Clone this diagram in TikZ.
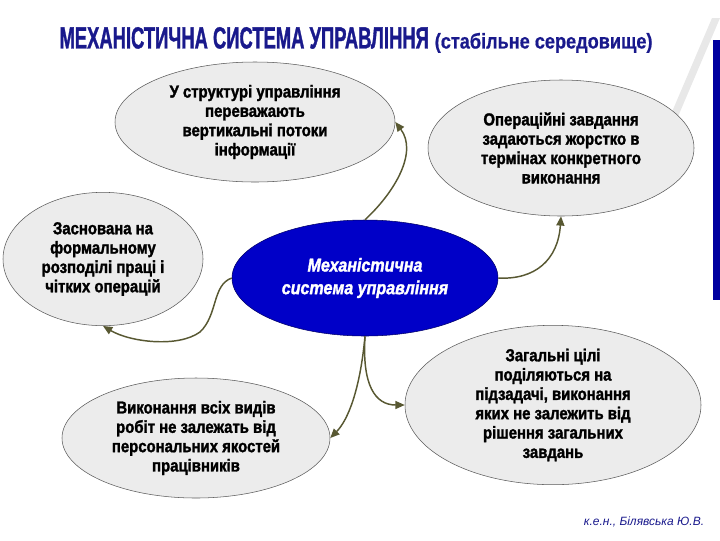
\documentclass[tikz,border=0pt]{standalone}
\usepackage{fontspec}
\setmainfont{Liberation Sans}
\newfontfamily\headfont[FakeStretch=0.6,FakeBold=1]{Liberation Sans}
\newfontfamily\subheadfont[FakeStretch=0.85,FakeBold=0.6]{Liberation Sans}
\newfontfamily\boxfont[FakeStretch=0.86,FakeBold=1.6]{Liberation Sans}
\usepackage{tikz}
\usetikzlibrary{arrows.meta}
\usetikzlibrary{shapes.geometric}

\definecolor{titleblue}{RGB}{25,25,140}
\definecolor{mechblue}{RGB}{0,0,200}
\definecolor{linkolive}{RGB}{88,88,50}

\begin{document}
\begin{tikzpicture}[x=0.75pt, y=-0.75pt,
        node_style/.style={ellipse, draw=gray!70!black, fill=gray!15, inner sep=0pt,
            align=center, font=\boxfont\bfseries\fontsize{13}{14.5}\selectfont},
        main_node_style/.style={ellipse, draw=blue!40!black, fill=mechblue, inner sep=0pt,
            align=center, text=white, font=\boxfont\bfseries\itshape\fontsize{14}{17}\selectfont},
        edge_style/.style={draw=linkolive, line width=1.1pt, -{Triangle[length=7pt,width=6pt]}}]

        \useasboundingbox (0,0) rectangle (720,540);

        % slide decoration
        \fill[gray!18] (712,18) -- (720,18) -- (668,140) -- (660,140) -- cycle;
        \fill[mechblue!80!black] (713,40) rectangle (720,300);

        % title
        \node (title) at (356,40) {\color{titleblue}{\headfont\bfseries\fontsize{23}{26}\selectfont МЕХАНІСТИЧНА СИСТЕМА УПРАВЛІННЯ}\,
            {\subheadfont\bfseries\fontsize{16}{18}\selectfont(стабільне середовище)}};

        \node [main_node_style, minimum width=199.5pt, minimum height=87pt](mech) at (365,278)
            {Механістична\\система управління};

        \node [node_style, minimum width=210pt, minimum height=90pt](vert) at (255,122)
            {У структурі управління\\переважають\\вертикальні потоки\\інформації};

        \node [node_style, minimum width=199.5pt, minimum height=102pt](oper) at (561,148)
            {Операційні завдання\\задаються жорстко в\\термінах конкретного\\виконання};

        \node [node_style, minimum width=150pt, minimum height=100pt](formal) at (103,259)
            {Заснована на\\формальному\\розподілі праці і\\чітких операцій};

        \node [node_style, minimum width=201pt, minimum height=90pt](work) at (196,438)
            {Виконання всіх видів\\робіт не залежать від\\персональних якостей\\працівників};

        \node [node_style, minimum width=222pt, minimum height=115.5pt](goals) at (553,405)
            {Загальні цілі\\поділяються на\\підзадачі, виконання\\яких не залежить від\\рішення загальних\\завдань};

        \node [text=titleblue, font=\itshape\fontsize{9}{11}\selectfont](author) at (644,522)
            {к.е.н., Білявська Ю.В.};

        \draw [edge_style] (mech.north) .. controls (395,192) and (418,152) .. (vert.east);

        \draw [edge_style] (mech.east) .. controls (535,280) and (558,260) .. (oper.south);

        \draw [edge_style] (mech.west) .. controls (212,285) and (218,315) .. (200,332)
            .. controls (178,348) and (130,342) .. (formal.south);

        \draw [edge_style] (mech.south) .. controls (362,385) and (375,405) .. (goals.west);

        \draw [edge_style] (mech.south) .. controls (360,390) and (348,420) .. (work.east);

        \end{tikzpicture}
\end{document}
